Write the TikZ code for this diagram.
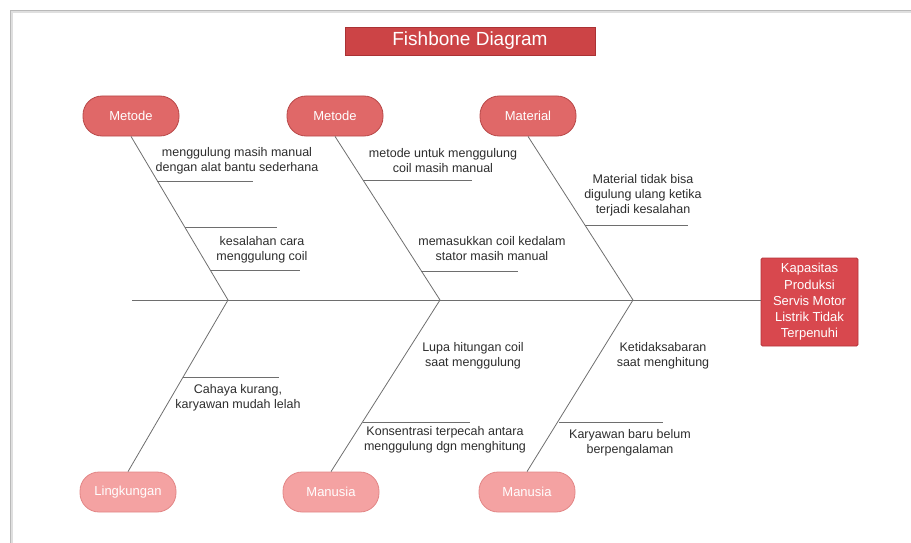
\documentclass[tikz,border=0pt]{standalone}
\usepackage{fontspec}
\setmainfont{Liberation Sans}
\definecolor{topfill}{RGB}{224,104,104}
\definecolor{topdraw}{RGB}{184,72,72}
\definecolor{botfill}{RGB}{244,162,162}
\definecolor{botdraw}{RGB}{226,134,134}
\definecolor{titlefill}{RGB}{204,68,70}
\definecolor{titledraw}{RGB}{170,50,52}
\definecolor{efffill}{RGB}{216,72,78}
\definecolor{effdraw}{RGB}{180,50,56}
\definecolor{bonecol}{RGB}{110,110,110}
\definecolor{txtcol}{RGB}{45,45,45}
\begin{document}
\begin{tikzpicture}[x=1pt,y=-1pt,
  cause/.style={rectangle, rounded corners=19pt, minimum width=96pt, minimum height=40pt,
    inner sep=0pt, text=white, font=\fontsize{13}{15}\selectfont, line width=0.8pt},
  topcause/.style={cause, fill=topfill, draw=topdraw},
  botcause/.style={cause, fill=botfill, draw=botdraw},
  titlebox/.style={rectangle, fill=titlefill, draw=titledraw, line width=0.8pt,
    minimum width=250pt, minimum height=28pt, inner sep=0pt, text=white,
    font=\fontsize{19}{22}\selectfont},
  effect/.style={rectangle, rounded corners=1.5pt, fill=efffill, draw=effdraw, line width=0.8pt,
    minimum width=97pt, minimum height=88pt, inner sep=0pt, align=center, text=white,
    font=\fontsize{13}{16.2}\selectfont},
  bone/.style={draw=bonecol, line width=0.8pt},
  sub/.style={draw=bonecol, line width=0.8pt},
  lbl/.style={align=center, text=txtcol, inner sep=0pt, font=\fontsize{12.5}{15}\selectfont}]
\useasboundingbox (0,0) rectangle (911,543);
% panel frame
\draw[gray!25, line width=3pt] (11,543) -- (11,12) -- (911,12);
\draw[gray!55, line width=1pt] (10,543) -- (10,11) -- (911,11);

% title
\node[titlebox] (title) at (470,41) {Fishbone Diagram};

% cause heads
\node[topcause] (m1) at (131,116) {Metode};
\node[topcause] (m2) at (335,116) {Metode};
\node[topcause] (mat) at (528,116) {Material};
\node[botcause] (ling) at (128,492) {Lingkungan};
\node[botcause] (man1) at (331,492) {Manusia};
\node[botcause] (man2) at (527,492) {Manusia};

% effect
\node[effect] (eff) at (809.5,302) {Kapasitas\\Produksi\\Servis Motor\\Listrik Tidak\\Terpenuhi};

% junctions
\coordinate (tail) at (132,300);
\coordinate (j1) at (228,300);
\coordinate (j2) at (440,300);
\coordinate (j3) at (633,300);

% spine and bones
\draw[bone] (tail) -- (tail -| eff.west);
\draw[bone] (m1.south) -- (j1);
\draw[bone] (ling.north) -- (j1);
\draw[bone] (m2.south) -- (j2);
\draw[bone] (man1.north) -- (j2);
\draw[bone] (mat.south) -- (j3);
\draw[bone] (man2.north) -- (j3);

% sub-bones
\draw[sub] (157,181) -- (253,181);
\draw[sub] (185,227) -- (277,227);
\draw[sub] (210,270) -- (300,270);
\draw[sub] (363,180) -- (472,180);
\draw[sub] (421,271) -- (518,271);
\draw[sub] (585,225) -- (688,225);
\draw[sub] (183,377) -- (279,377);
\draw[sub] (363,422) -- (470,422);
\draw[sub] (559,422) -- (663,422);

% labels
\node[lbl] (t1) at (237,161) {menggulung masih manual\\dengan alat bantu sederhana};
\node[lbl] (t2) at (262,249.5) {kesalahan cara\\menggulung coil};
\node[lbl] (t3) at (443,161) {metode untuk menggulung\\coil masih manual};
\node[lbl] (t4) at (492,249) {memasukkan coil kedalam\\stator masih manual};
\node[lbl] (t5) at (643,195) {Material tidak bisa\\digulung ulang ketika\\terjadi kesalahan};
\node[lbl] (t6) at (238,397.5) {Cahaya kurang,\\karyawan mudah lelah};
\node[lbl] (t7) at (473,355.5) {Lupa hitungan coil\\saat menggulung};
\node[lbl] (t8) at (445,439.5) {Konsentrasi terpecah antara\\menggulung dgn menghitung};
\node[lbl] (t9) at (663,355.5) {Ketidaksabaran\\saat menghitung};
\node[lbl] (t10) at (630,442.5) {Karyawan baru belum\\berpengalaman};
\end{tikzpicture}
\end{document}
